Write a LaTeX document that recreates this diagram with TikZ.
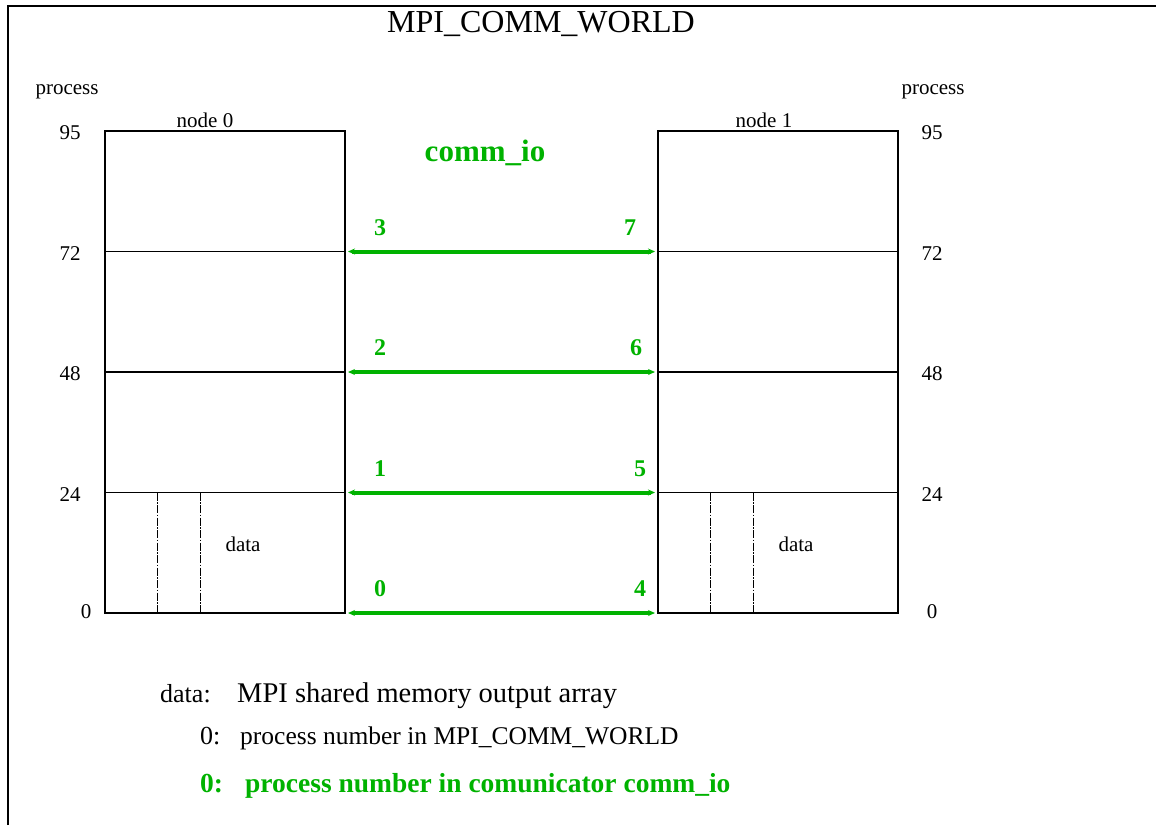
\documentclass[tikz,border=0pt]{standalone}
\usepackage{fontspec}
\setmainfont{Liberation Serif}
\usetikzlibrary{arrows.meta, positioning}
\definecolor{commgreen}{RGB}{0,178,0}
\tikzset{
  cell/.style={rectangle, draw=black, line width=1.1pt, minimum width=240pt, minimum height=120.5pt, inner sep=0pt, outer sep=0pt},
  tick/.style={font=\fontsize{21}{24}\selectfont, inner sep=0pt},
  splitline/.style={draw=black, line width=0.9pt, dash pattern=on 8pt off 1.5pt on 1.5pt off 1.5pt},
  link/.style={{Stealth[length=7pt,width=6pt]}-{Stealth[length=7pt,width=6pt]}, draw=commgreen, line width=4pt, shorten <=3pt, shorten >=3pt},
  rank/.style={font=\bfseries\fontsize{24}{28}\selectfont, text=commgreen, inner sep=0pt},
  legend/.style={font=\fontsize{26}{30}\selectfont, anchor=base west, inner sep=0pt},
  legendbold/.style={font=\bfseries\fontsize{27.5}{32}\selectfont, text=commgreen, anchor=base west, inner sep=0pt},
}

\begin{document}
\begin{tikzpicture}[x=1pt, y=-1pt, node distance=0pt]
  \useasboundingbox (0,0) rectangle (1156,825);

  % ---- Frame ----
  \draw[line width=2pt] (8,825) -- (8,6) -- (1156,6);

  % ---- Title ----
  \node (title) [font=\fontsize{32}{36}\selectfont] at (541,24) {MPI\_COMM\_WORLD};
  \node (commio) [font=\bfseries\fontsize{31}{36}\selectfont, text=commgreen] at (485,153) {comm\_io};

  % ---- Node 0 ----
  \node (n0c3) [cell] at (225,191.25) {};
  \node (n0c2) [cell, below=of n0c3] {};
  \node (n0c1) [cell, below=of n0c2] {};
  \node (n0c0) [cell, below=of n0c1] {};

  % ---- Node 1 ----
  \node (n1c3) [cell] at (778,191.25) {};
  \node (n1c2) [cell, below=of n1c3] {};
  \node (n1c1) [cell, below=of n1c2] {};
  \node (n1c0) [cell, below=of n1c1] {};

  \node (name0) [tick, anchor=south] at ([xshift=-20pt,yshift=3pt]n0c3.north) {node 0};
  \node (name1) [tick, anchor=south] at ([xshift=-14pt,yshift=3pt]n1c3.north) {node 1};
  \node (procL) [tick] at (67,92) {process};
  \node (procR) [tick] at (933,92) {process};

  % ---- Process axis ----
  \foreach \c/\v in {3/95, 2/72, 1/48, 0/24} {
    \node [tick] at ([xshift=-35pt,yshift=-2pt]n0c\c.north west) {\v};
    \node [tick] at ([xshift=34pt,yshift=-2pt]n1c\c.north east) {\v};
  }
  \node [tick] at ([xshift=-19pt,yshift=1pt]n0c0.south west) {0};
  \node [tick] at ([xshift=34pt,yshift=1pt]n1c0.south east) {0};

  % ---- Data arrays ----
  \foreach \n in {0,1} {
    \draw [splitline] ([xshift=52pt]n\n c0.north west) -- ([xshift=52pt]n\n c0.south west);
    \draw [splitline] ([xshift=95pt]n\n c0.north west) -- ([xshift=95pt]n\n c0.south west);
    \node [tick] at ([xshift=138pt,yshift=8pt]n\n c0.west) {data};
  }

  % ---- comm_io links ----
  \foreach \c/\a/\b/\dx in {3/3/7/28, 2/2/6/22, 1/1/5/18, 0/0/4/18} {
    \draw [link] (n0c\c.south east) -- (n1c\c.south west);
    \node [rank] at ([xshift=35pt,yshift=24pt]n0c\c.south east) {\a};
    \node [rank] at ([xshift=-\dx pt,yshift=24pt]n1c\c.south west) {\b};
  }

  % ---- Legend ----
  \node (keydata) [legend] at (160,702) {data:};
  \node (descdata) [legend, font=\fontsize{28.5}{32}\selectfont] at (237,702) {MPI shared memory output array};
  \node (keyworld) [legend] at (200,744) {0:};
  \node (descworld) [legend, font=\fontsize{25.5}{30}\selectfont] at (240,744) {process number in MPI\_COMM\_WORLD};
  \node (keycomm) [legendbold] at (200,792) {0:};
  \node (desccomm) [legendbold] at (245,792) {process number in comunicator comm\_io};

\end{tikzpicture}
\end{document}
